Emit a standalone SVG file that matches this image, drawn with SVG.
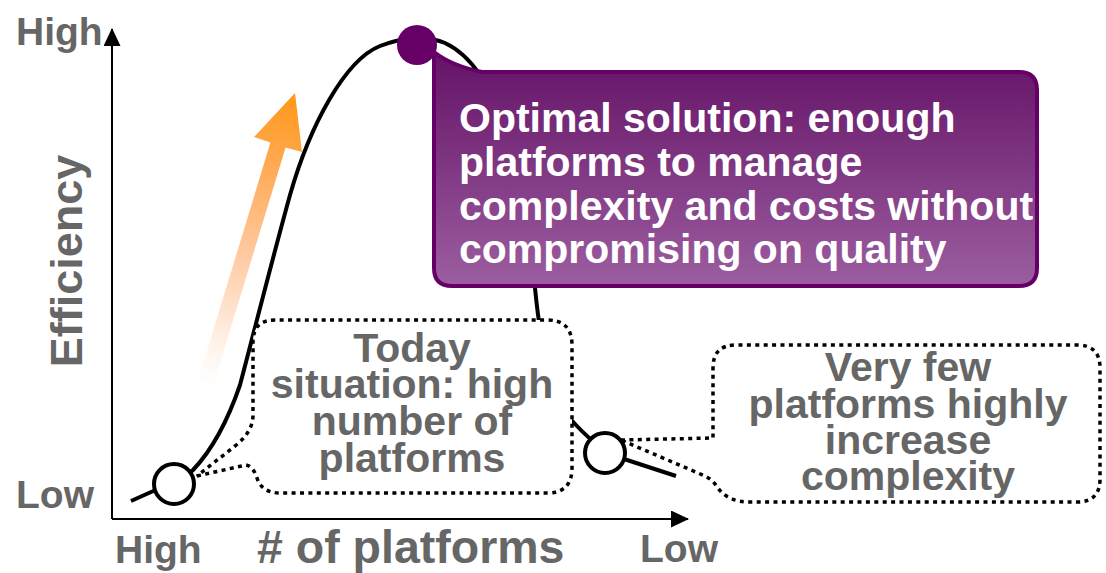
<svg xmlns="http://www.w3.org/2000/svg" width="1106" height="573" viewBox="0 0 1106 573">
  <defs>
    <linearGradient id="gOrange" gradientUnits="userSpaceOnUse" x1="205" y1="385" x2="293" y2="100">
      <stop offset="0" stop-color="#ffffff"/>
      <stop offset="0.12" stop-color="#fff5ee"/>
      <stop offset="0.45" stop-color="#ffcaa3"/>
      <stop offset="0.75" stop-color="#ffab58"/>
      <stop offset="1" stop-color="#ff991c"/>
    </linearGradient>
    <linearGradient id="gPurple" x1="0" y1="0" x2="0" y2="1">
      <stop offset="0" stop-color="#641266"/>
      <stop offset="1" stop-color="#9c5ea0"/>
    </linearGradient>
    <marker id="arrowHead" viewBox="0 0 18 17" refX="17" refY="8.5" markerWidth="18" markerHeight="17" markerUnits="userSpaceOnUse" orient="auto">
      <path d="M0,0 L18,8.5 L0,17 Z" fill="#000"/>
    </marker>
  </defs>
  <style>
    .lbl { font-family: "Liberation Sans", Arial, sans-serif; font-weight: bold; fill: #666666; }
    .wht { font-family: "Liberation Sans", Arial, sans-serif; font-weight: bold; fill: #ffffff; font-size: 41px; }
    .axis { stroke: #000; stroke-width: 2; fill: none; }
    .dotted { fill: #ffffff; stroke: #000; stroke-width: 3.5; stroke-dasharray: 4 4.4; }
    .ring { fill: #ffffff; stroke: #000; stroke-width: 4; }
  </style>

  <rect width="1106" height="573" fill="#ffffff"/>

  <g id="axes">
    <path class="axis" d="M112,519 V29" marker-end="url(#arrowHead)"/>
    <path class="axis" d="M112,519 H688" marker-end="url(#arrowHead)"/>
    <text class="lbl" x="16" y="45" font-size="39">High</text>
    <text class="lbl" x="16" y="508" font-size="39">Low</text>
    <text class="lbl" font-size="45" text-anchor="middle" transform="translate(82,261) rotate(-90)">Efficiency</text>
    <text class="lbl" x="115" y="563" font-size="39">High</text>
    <text class="lbl" x="257" y="563" font-size="46.5"># of platforms</text>
    <text class="lbl" x="640" y="562" font-size="39">Low</text>
  </g>

  <g id="trend-arrow">
    <polygon fill="url(#gOrange)" points="197.4,382.6 270.4,142.6 254,137 295,93 302,152 285.6,147.4 212.6,387.4"/>
  </g>

  <g id="connectors">
    <path id="efficiency-curve" fill="none" stroke="#000" stroke-width="4" d="M131,501 L160,488 C175,481 185,478 193,470 C212,450 228,420 240,385 C252,340 272,260 290,195 C310,125 345,60 380,46 C398,39 425,34 445,43 C460,50 470,60 480,75 C510,125 528,220 535,288 C540,340 550,400 575,424 C590,440 605,453 627,460 L676,476"/>
  </g>

  <g id="node-today">
    <path class="dotted" d="M197,476 L246,465 Q253,466 257,478 Q262,493 280,493 H547 Q572,493 572,468 V345 Q572,320 547,320 H275 Q253,320 253,342 V415 Q253,432 235,446 Z"/>
    <circle class="ring" cx="174" cy="484" r="20"/>
    <g class="lbl" font-size="41" text-anchor="middle">
      <text x="412" y="362">Today</text>
      <text x="412" y="398">situation: high</text>
      <text x="412" y="435">number of</text>
      <text x="412" y="472">platforms</text>
    </g>
  </g>

  <g id="node-few">
    <path class="dotted" d="M621,440 L713,438 V368 Q713,345 736,345 H1077 Q1100,345 1100,368 V479 Q1100,502 1077,502 H750 Q728,502 718,488 Q713,480 705,476 Z"/>
    <circle class="ring" cx="605" cy="453" r="20"/>
    <g class="lbl" font-size="41" text-anchor="middle">
      <text x="908" y="381">Very few</text>
      <text x="908" y="418">platforms highly</text>
      <text x="908" y="454">increase</text>
      <text x="908" y="490">complexity</text>
    </g>
  </g>

  <g id="node-optimal">
    <path fill="url(#gPurple)" stroke="#660066" stroke-width="4" d="M434,52 Q452,66 482,72 H1019 Q1037,72 1037,90 V268 Q1037,286 1019,286 H452 Q434,286 434,268 Z"/>
    <circle cx="417" cy="45" r="20" fill="#660066"/>
    <text class="wht" x="459" y="132">Optimal solution: enough</text>
    <text class="wht" x="459" y="176">platforms to manage</text>
    <text class="wht" x="459" y="220">complexity and costs without</text>
    <text class="wht" x="459" y="263">compromising on quality</text>
  </g>
</svg>
